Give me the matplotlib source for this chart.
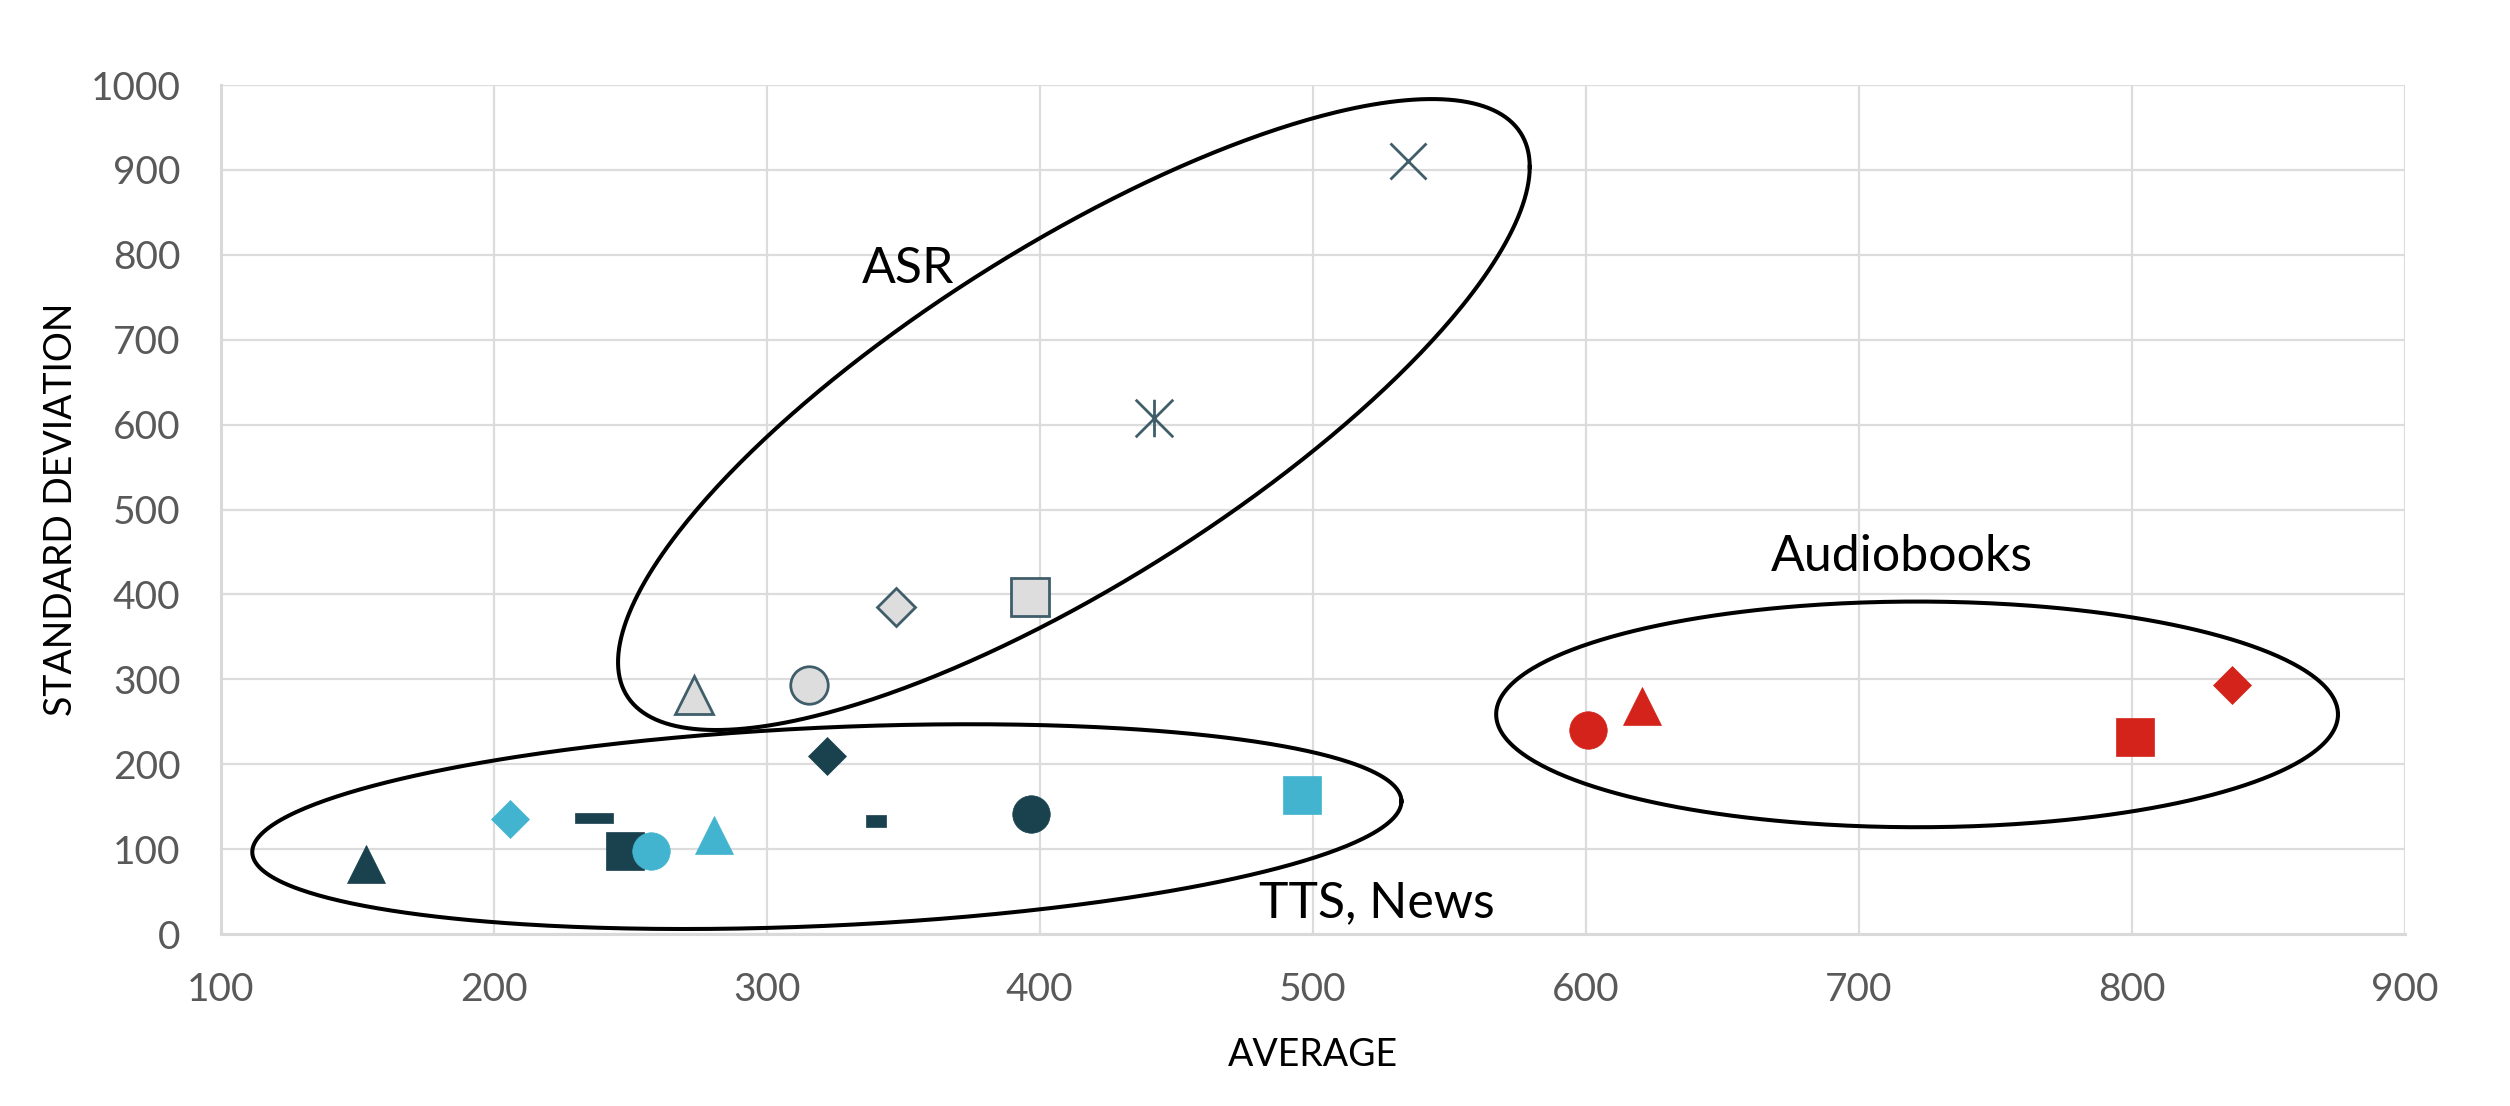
import numpy as np
import matplotlib.pyplot as plt
from matplotlib.path import Path

plt.rcParams['font.family'] = ['Lato', 'DejaVu Sans']

# ---- data ----
asr_x = [273.5, 315.4, 347.5, 396.6, 441.8, 534.9]
asr_y = [282, 293, 385, 397, 608, 911]

tts_dark_x = [153.3, 236.6, 248.0, 322.2, 339.9, 396.9]
tts_dark_y = [82, 137, 98, 210, 133, 141]

tts_light_x = [206.0, 257.5, 280.6, 496.1]
tts_light_y = [135, 98, 117, 164]

audio_x = [600.8, 620.7, 801.3, 836.8]
audio_y = [240, 268, 232, 293]

x_ticks = [100, 200, 300, 400, 500, 600, 700, 800, 900]
y_ticks = [0, 100, 200, 300, 400, 500, 600, 700, 800, 900, 1000]

# group outlines: centre, half extents, tilt (correlation)
groups = ['ASR', 'TTS, News', 'Audiobooks']
ell_cx = [412.5, 322.0, 721.4]
ell_cy = [611.9, 126.5, 258.7]
ell_rx = [167.0, 210.5, 154.2]
ell_ry = [371.6, 120.6, 132.9]
ell_rho = [0.785, 0.248, 0.0]
label_x = [351.8, 523.6, 715.9]
label_y = [767, 20.4, 427.6]

# ---- markers ----
dash_long = Path([(-1, -0.27), (1, -0.27), (1, 0.27), (-1, 0.27), (-1, -0.27)], closed=True)
dash_short = Path([(-1, -0.55), (1, -0.55), (1, 0.55), (-1, 0.55), (-1, -0.55)], closed=True)
star = Path([(-1, -1), (1, 1), (-1, 1), (1, -1), (0, -1), (0, 1)],
            [Path.MOVETO, Path.LINETO, Path.MOVETO, Path.LINETO, Path.MOVETO, Path.LINETO])

asr_m = ['^', 'o', 'D', 's', star, 'x']
tts_dark_m = ['^', dash_long, 's', 'D', dash_short, 'o']
tts_light_m = ['D', 'o', '^', 's']
audio_m = ['o', '^', 's', 'D']

size = {'o': 27, 's': 27, '^': 27, 'D': 19.5, 'x': 26}

dark = '#1a414e'
light = '#42b4cf'
red = '#d3231a'
asr_fill = '#dddddd'
asr_edge = '#3f5e6a'

fig = plt.figure(figsize=(25.1, 11.06), dpi=100)
ax = fig.add_axes([0.088, 0.1555, 0.870, 0.7676])


def msize(m):
    if m is dash_long:
        return 27
    if m is dash_short:
        return 14.5
    if m is star:
        return 27
    return size[m]


for xs, ys, ms, col in [(tts_dark_x, tts_dark_y, tts_dark_m, dark),
                        (tts_light_x, tts_light_y, tts_light_m, light),
                        (audio_x, audio_y, audio_m, red)]:
    for x, y, m in zip(xs, ys, ms):
        ax.plot(x, y, marker=m, ms=msize(m), color=col, mec=col, mew=0.5,
                linestyle='none', zorder=3)

for x, y, m in zip(asr_x, asr_y, asr_m):
    if m in ('x',) or m is star:
        ax.plot(x, y, marker=m, ms=msize(m), color=asr_edge, mew=2,
                linestyle='none', zorder=3)
    else:
        ax.plot(x, y, marker=m, ms=msize(m), mfc=asr_fill, mec=asr_edge, mew=2,
                linestyle='none', zorder=3)

t = np.linspace(0, 2 * np.pi, 500)
for cx, cy, rx, ry, rho in zip(ell_cx, ell_cy, ell_rx, ell_ry, ell_rho):
    ex = cx + rx * np.cos(t)
    ey = cy + ry * (rho * np.cos(t) + np.sqrt(1 - rho ** 2) * np.sin(t))
    ax.plot(ex, ey, color='black', lw=2.9, zorder=4, clip_on=False)

for name, lx, ly in zip(groups, label_x, label_y):
    ax.text(lx, ly, name, fontsize=36, ha='center', va='baseline', color='black', zorder=5)

ax.set_xlim(100, 900)
ax.set_ylim(0, 1000)
ax.set_xticks(x_ticks)
ax.set_yticks(y_ticks)
ax.grid(True, color='#dcdcdc', lw=1.6)
ax.set_axisbelow(True)
ax.tick_params(length=0, labelsize=28, labelcolor='#595959')
ax.tick_params(axis='y', pad=29)
ax.tick_params(axis='x', pad=27)
for s in ['top', 'right']:
    ax.spines[s].set_visible(False)
for s in ['left', 'bottom']:
    ax.spines[s].set_color('#d9d9d9')
    ax.spines[s].set_linewidth(2.2)

ax.set_xlabel('AVERAGE', fontsize=27, va='center')
ax.set_ylabel('STANDARD DEVIATION', fontsize=27, va='center')
ax.xaxis.set_label_coords(0.5, -0.1425)
ax.yaxis.set_label_coords(-0.0732, 0.5)

fig.savefig('out.png', dpi=100)
